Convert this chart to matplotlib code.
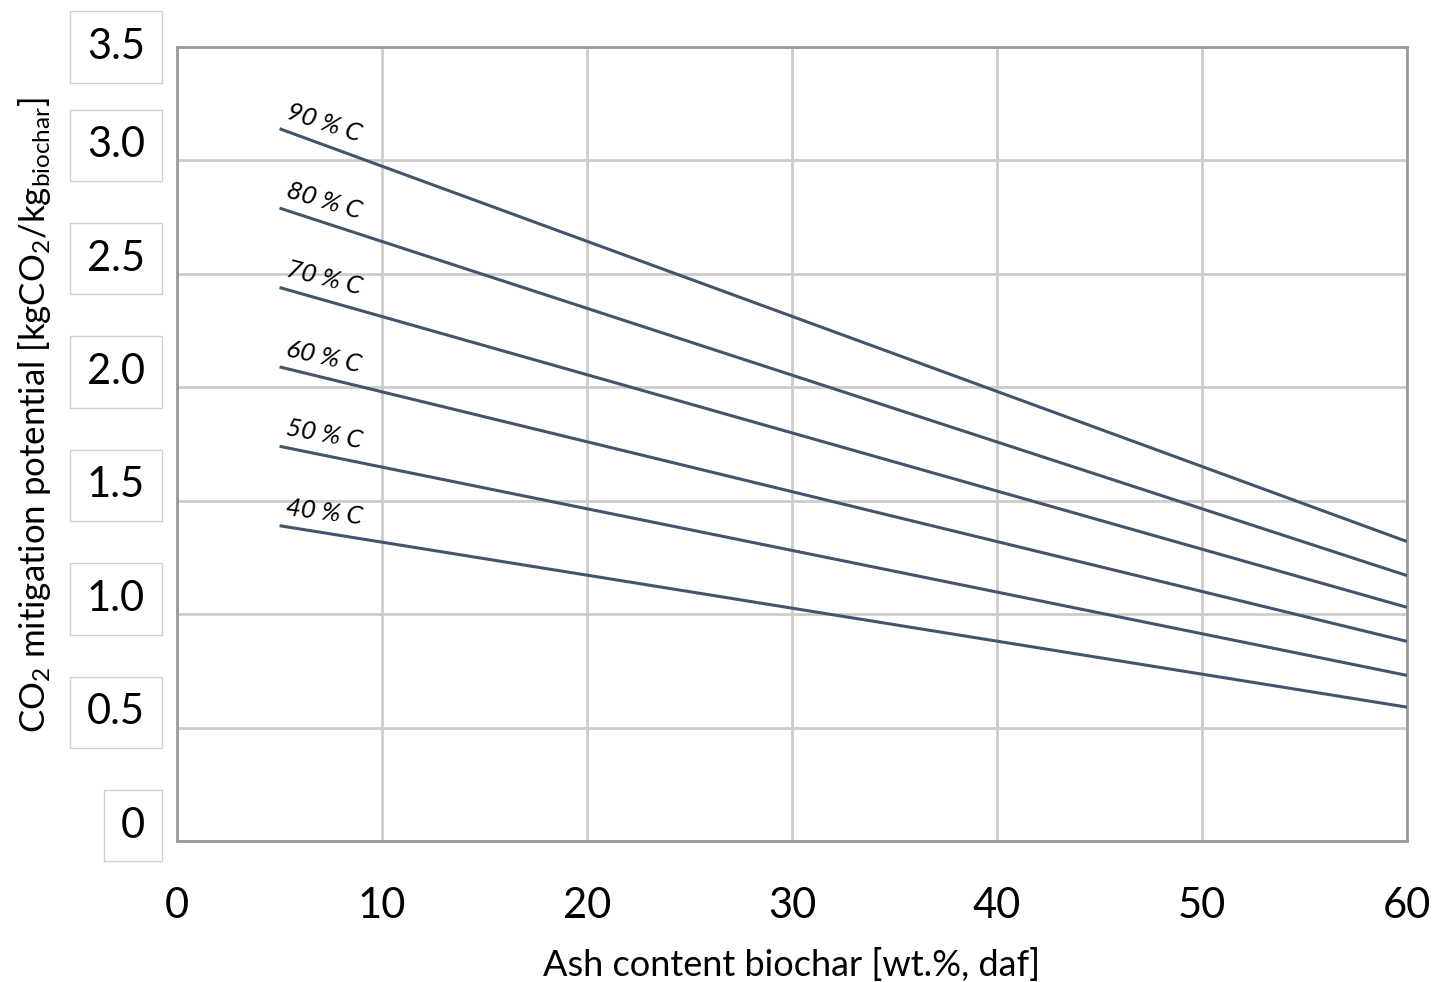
import matplotlib.pyplot as plt

plt.rcParams['font.family'] = ['Lato', 'DejaVu Sans']
plt.rcParams['mathtext.fontset'] = 'custom'
plt.rcParams['mathtext.rm'] = 'Lato'
plt.rcParams['mathtext.it'] = 'Lato:italic'

# data
carbon_labels = ["90 % C", "80 % C", "70 % C", "60 % C", "50 % C", "40 % C"]
ash_content = [5, 60]
mitigation_at_5 = [3.14, 2.79, 2.44, 2.09, 1.74, 1.39]
mitigation_at_60 = [1.32, 1.17, 1.03, 0.88, 0.73, 0.59]

x_ticks = [0, 10, 20, 30, 40, 50, 60]
y_ticks = [0, 0.5, 1.0, 1.5, 2.0, 2.5, 3.0, 3.5]
y_tick_labels = ["0", "0.5", "1.0", "1.5", "2.0", "2.5", "3.0", "3.5"]

line_color = "#44546a"
label_rot = [-18, -16.5, -14, -12.5, -10, -7]

fig = plt.figure(figsize=(14.36, 9.82), dpi=100)
ax = fig.add_axes([0.1233, 0.1436, 0.8565, 0.8085])

for i, name in enumerate(carbon_labels):
    ax.plot(ash_content, [mitigation_at_5[i], mitigation_at_60[i]],
            color=line_color, lw=2.2, solid_capstyle='butt', zorder=3)
    ax.annotate(name, xy=(ash_content[0], mitigation_at_5[i]),
                xytext=(4, 8), textcoords='offset points',
                fontsize=18.5, style='italic', rotation=label_rot[i],
                rotation_mode='anchor', ha='left', va='baseline')

ax.set_xlim(0, 60)
ax.set_ylim(0, 3.5)
ax.set_xticks(x_ticks)
ax.set_yticks(y_ticks)
ax.set_xticklabels([str(t) for t in x_ticks], fontsize=30)
ax.tick_params(axis='x', length=0, pad=33)
ax.tick_params(axis='y', length=0, labelleft=False)

ax.grid(True, color='#cccccc', lw=2)
ax.set_axisbelow(True)
for s in ax.spines.values():
    s.set_color('#9a9a9a')
    s.set_linewidth(2)

# boxed y tick labels, slightly raised above the gridlines
for v, lab in zip(y_ticks, y_tick_labels):
    dy = 0 if v == 3.5 else 11
    ax.annotate(lab, xy=(0, v), xycoords=('axes fraction', 'data'),
                xytext=(-23, dy), textcoords='offset points',
                ha='right', va='center', fontsize=30,
                bbox=dict(boxstyle='square,pad=0.4', fc='white',
                          ec='#d0d0d0', lw=1))

fig.text(0.551, 1 - 965 / 982, "Ash content biochar [wt.%, daf]",
         ha='center', va='center', fontsize=26)
fig.text(35 / 1436, 1 - 415 / 982,
         r"CO$_2$ mitigation potential [kgCO$_2$/kg$_{\mathrm{biochar}}$]",
         ha='center', va='center', rotation=90, fontsize=25)

plt.savefig("out.png", dpi=100, facecolor='w')
plt.close()
